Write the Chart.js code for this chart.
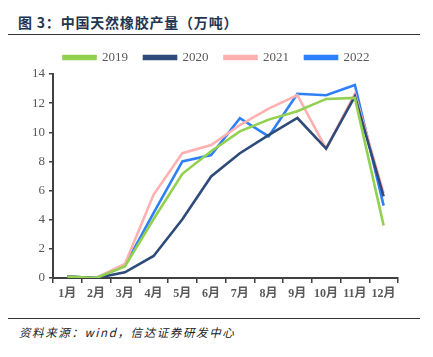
<!DOCTYPE html>
<html>
<head>
<meta charset="utf-8">
<script src="https://cdn.jsdelivr.net/npm/chart.js@4/dist/chart.umd.min.js"></script>
<style>
  html, body { margin:0; padding:0; background:#fff; width:433px; height:357px; overflow:hidden; }
  #title { position:absolute; left:18px; top:12px; font-family:"Noto Sans CJK SC", sans-serif; font-weight:bold; font-size:14px; color:#1f3550; letter-spacing:0.8px; white-space:nowrap; }
  #tline { position:absolute; left:8px; width:412px; top:34px; height:0; border-top:1px solid #333; }
  #fline { position:absolute; left:8px; width:412px; top:318px; height:0; border-top:1px solid #333; }
  #foot { position:absolute; left:19px; top:324px; font-family:"Noto Sans CJK SC", sans-serif; font-style:italic; font-size:11.5px; color:#222; letter-spacing:1.6px; white-space:nowrap; }
  #wrap { position:absolute; left:0; top:35px; width:433px; height:277px; }
</style>
</head>
<body>
<div id="title">图 3：中国天然橡胶产量（万吨）</div>
<div id="tline"></div>
<div id="wrap"><canvas id="c"></canvas></div>
<div id="fline"></div>
<div id="foot">资料来源：wind，信达证券研发中心</div>
<script>
const months = ["1月","2月","3月","4月","5月","6月","7月","8月","9月","10月","11月","12月"];
const yTicks = [0,2,4,6,8,10,12,14];
const s2019 = [0.1, 0.0, 0.8, 4.05, 7.15, 8.7, 10.06, 10.87, 11.44, 12.29, 12.36, 3.6];
const s2020 = [0.1, 0.0, 0.39, 1.51, 4.03, 6.97, 8.56, 9.8, 10.98, 8.88, 12.47, 5.6];
const s2021 = [0.1, 0.0, 0.96, 5.73, 8.57, 9.12, 10.5, 11.62, 12.55, 8.88, 12.65, 5.82];
const s2022 = [0.1, 0.0, 0.85, 4.47, 8.0, 8.44, 10.97, 9.72, 12.64, 12.54, 13.25, 4.97];

const serif = "'Liberation Serif', 'Noto Sans CJK SC', serif";
function ds(label, data, color) {
  return { label, data, borderColor: color, backgroundColor: color, borderWidth: 2.6, pointRadius: 0, tension: 0, fill: false };
}
const centerLegend = {
  id: 'centerLegend',
  beforeDraw(chart) {
    if (chart.legend) { chart.legend.left = 0; chart.legend.right = chart.width; }
  }
};
new Chart(document.getElementById('c'), {
  type: 'line',
  data: {
    labels: months,
    datasets: [
      ds('2019', s2019, '#92d050'),
      ds('2020', s2020, '#2f4b7a'),
      ds('2021', s2021, '#ffb0b0'),
      ds('2022', s2022, '#2f80f8')
    ]
  },
  plugins: [centerLegend],
  options: {
    responsive: true,
    maintainAspectRatio: false,
    animation: false,
    layout: { padding: { left: 0, right: 35, top: 0, bottom: 0 } },
    plugins: {
      tooltip: { enabled: false },
      legend: {
        position: 'top',
        labels: { boxWidth: 32, boxHeight: 3, padding: 16, color: '#595959', font: { family: serif, size: 13 } }
      }
    },
    scales: {
      x: {
        offset: true,
        grid: { offset: true, drawOnChartArea: false, drawTicks: true, tickLength: 5, color: '#404040', lineWidth: 1.5 },
        border: { color: '#404040', width: 2 },
        ticks: { color: '#595959', font: { family: serif, size: 12, weight: 'bold' }, maxRotation: 0, autoSkip: false, padding: 4 },
        afterFit: s => { s.height = 34; }
      },
      y: {
        min: 0, max: 14,
        afterBuildTicks: s => { s.ticks = yTicks.map(v => ({ value: v })); },
        grid: { drawOnChartArea: false, drawTicks: true, tickLength: 4, color: '#404040', lineWidth: 1.5 },
        border: { color: '#404040', width: 2 },
        ticks: { color: '#595959', font: { family: serif, size: 13 }, padding: 4 },
        afterFit: s => { s.width = 53; }
      }
    }
  }
});
</script>
</body>
</html>
